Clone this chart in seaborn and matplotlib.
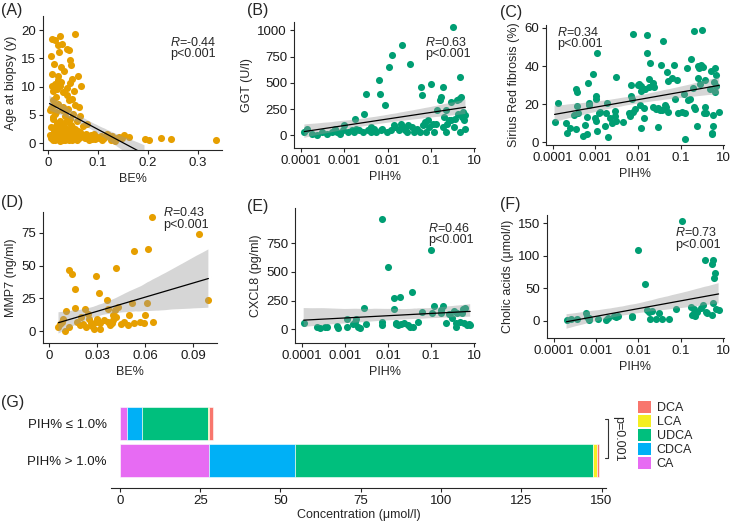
import numpy as np
import pandas as pd
import matplotlib
matplotlib.use("Agg")
import matplotlib.pyplot as plt
from matplotlib.patches import Patch
import seaborn as sns

ORANGE = "#E69F00"
GREEN = "#009E73"

# (A) BE% vs age at biopsy
be_a = [0.005, 0.008, 0.013, 0.020, 0.024, 0.027, 0.022, 0.037, 0.041, 0.054,
        0.011, 0.025, 0.044, 0.046, 0.047, 0.059, 0.066, 0.007, 0.014, 0.020,
        0.024, 0.010, 0.017, 0.030, 0.037, 0.044, 0.051, 0.041, 0.010, 0.020,
        0.030, 0.054, 0.061, 0.064, 0.057, 0.078, 0.003, 0.010, 0.014, 0.024,
        0.033, 0.044, 0.005, 0.017, 0.024, 0.037, 0.047, 0.010, 0.020, 0.030,
        0.044, 0.057, 0.071, 0.081, 0.098, 0.111, 0.120, 0.133, 0.142, 0.152,
        0.162, 0.193, 0.201, 0.225, 0.245, 0.335, 0.006, 0.012, 0.016, 0.018,
        0.028, 0.035, 0.040, 0.050, 0.013, 0.022, 0.034, 0.042, 0.062, 0.070,
        0.027, 0.015, 0.008, 0.031, 0.038, 0.048, 0.026, 0.019, 0.009, 0.045,
        0.088, 0.105, 0.125, 0.148, 0.006, 0.009, 0.012, 0.015, 0.018, 0.021,
        0.025, 0.029, 0.032, 0.036, 0.039, 0.043, 0.048, 0.052, 0.055, 0.060,
        0.066, 0.074, 0.085, 0.094, 0.102, 0.115, 0.138, 0.016, 0.023, 0.031,
        0.046, 0.053, 0.004, 0.007, 0.011, 0.014, 0.019, 0.023, 0.026, 0.030,
        0.033, 0.038, 0.041, 0.049, 0.058, 0.064, 0.076, 0.082, 0.092, 0.108,
        0.118, 0.128]
age_a = [15.4, 18.5, 18.2, 17.3, 19.0, 17.6, 16.2, 16.7, 16.4, 19.4,
         14.0, 13.5, 14.7, 13.8, 11.4, 11.8, 10.1, 10.2, 10.5, 11.1,
         10.2, 9.3, 9.6, 9.1, 8.5, 10.7, 9.3, 7.6, 7.6, 7.0,
         6.4, 6.7, 6.4, 4.9, 4.0, 3.4, 5.8, 4.6, 5.2, 4.0,
         4.9, 4.3, 2.8, 2.2, 2.8, 2.5, 2.8, 1.7, 1.4, 1.7,
         1.7, 1.4, 1.1, 1.2, 1.1, 0.9, 1.4, 0.4, 1.1, 1.4,
         1.1, 0.8, 0.5, 0.9, 0.8, 0.5, 6.2, 6.8, 5.5, 3.5,
         3.2, 3.8, 6.0, 5.2, 1.0, 0.8, 1.0, 0.6, 0.9, 3.0,
         5.8, 8.2, 12.3, 12.8, 9.8, 7.8, 10.8, 11.8, 4.2, 2.2,
         0.7, 1.3, 0.6, 0.9, 1.0, 0.6, 2.0, 1.2, 0.7, 2.3,
         1.1, 0.6, 2.1, 1.3, 0.8, 1.1, 0.5, 1.8, 0.9, 2.2,
         1.5, 0.9, 1.5, 0.8, 1.0, 1.2, 1.0, 3.0, 3.6, 2.8,
         3.3, 2.5, 1.5, 0.9, 2.6, 0.5, 1.9, 0.4, 2.9, 1.2,
         0.5, 2.0, 1.5, 1.0, 0.6, 1.9, 1.7, 0.5, 1.6, 0.6,
         1.7, 1.2]

# (B) PIH% vs GGT
pih_b = [1.2e-4, 1.4e-4, 1.8e-4, 2.4e-4, 3.1e-4, 4.0e-4, 5.2e-4, 6.2e-4, 8.0e-4, 9.5e-4,
         1.0e-3, 1.2e-3, 1.5e-3, 1.8e-3, 1.9e-3, 2.7e-3, 2.9e-3, 3.1e-3, 3.5e-3, 4.2e-3,
         5.5e-3, 6.3e-3, 6.6e-3, 6.9e-3, 8.9e-3, 9.8e-3, 0.011, 0.013, 0.015, 0.018,
         0.022, 0.023, 0.028, 0.033, 0.036, 0.043, 0.055, 0.059, 0.063, 0.072,
         0.078, 0.093, 0.10, 0.11, 0.12, 0.14, 0.16, 0.17, 0.19, 0.195,
         0.22, 0.24, 0.26, 0.29, 0.32, 0.34, 0.41, 0.45, 0.47, 0.50,
         0.53, 0.57, 0.63, 7.5e-3, 0.012, 0.014, 0.020, 0.025, 0.030, 0.040,
         0.048, 0.065, 0.085, 0.13, 0.20, 0.23, 0.30, 0.37, 0.43, 0.48,
         0.55, 0.60, 6.8e-4, 1.7e-3, 2.2e-3, 4.2e-3, 5.0e-3]
ggt_b = [32, 63, 16, 0, 32, 16, 32, 63, 16, 48,
         95, 32, 48, 159, 63, 32, 206, 397, 48, 79,
         32, 524, 397, 48, 286, 32, 651, 762, 79, 48,
         857, 79, 32, 683, 79, 48, 32, 460, 381, 127,
         32, 79, 492, 111, 32, 238, 333, 365, 460, 79,
         32, 111, 143, 317, 1032, 79, 333, 349, 556, 365,
         175, 143, 63, 63, 48, 95, 111, 54, 95, 32,
         63, 95, 143, 105, 175, 238, 143, 159, 206, 32,
         222, 190, 32, 32, 48, 32, 63]

# (C) PIH% vs Sirius Red fibrosis
pih_c = [1.1e-4, 1.3e-4, 2.0e-4, 2.2e-4, 2.5e-4, 3.1e-4, 3.5e-4, 3.5e-4, 3.6e-4, 3.7e-4,
         3.8e-4, 5.0e-4, 5.8e-4, 6.2e-4, 6.4e-4, 6.7e-4, 6.9e-4, 7.2e-4, 8.8e-4, 1.0e-3,
         1.04e-3, 1.04e-3, 1.06e-3, 1.1e-3, 1.1e-3, 1.2e-3, 1.3e-3, 1.7e-3, 1.8e-3, 1.9e-3,
         1.95e-3, 2.2e-3, 2.5e-3, 2.9e-3, 2.9e-3, 3.0e-3, 3.1e-3, 4.4e-3, 6.0e-3, 6.6e-3,
         6.9e-3, 6.9e-3, 7.2e-3, 7.5e-3, 7.5e-3, 8.7e-3, 0.010, 0.0104, 0.011, 0.012,
         0.012, 0.012, 0.0135, 0.014, 0.015, 0.016, 0.016, 0.018, 0.0185, 0.019,
         0.022, 0.023, 0.024, 0.027, 0.029, 0.030, 0.033, 0.035, 0.036, 0.039,
         0.042, 0.045, 0.048, 0.050, 0.052, 0.063, 0.069, 0.075, 0.082, 0.087,
         0.11, 0.12, 0.13, 0.13, 0.145, 0.15, 0.17, 0.18, 0.20, 0.21,
         0.22, 0.21, 0.24, 0.25, 0.26, 0.27, 0.29, 0.30, 0.32, 0.33,
         0.35, 0.37, 0.38, 0.39, 0.50, 0.53, 0.54, 0.56, 0.57, 0.59,
         0.61, 0.65, 0.65, 0.68, 0.68, 0.81]
srf_c = [10.6, 20.6, 10.1, 5.1, 7.6, 14.4, 6.8, 27.9, 26.5, 18.9,
         15.2, 3.4, 9.3, 4.6, 13.5, 31.0, 20.6, 19.8, 35.6, 12.7,
         24.5, 22.8, 11.0, 5.9, 47.0, 15.2, 16.0, 8.4, 15.2, 20.6,
         2.9, 12.7, 10.1, 14.0, 16.6, 34.3, 11.3, 10.6, 15.2, 13.9,
         24.2, 29.9, 22.8, 56.6, 16.0, 17.7, 29.9, 30.4, 19.4, 29.6,
         27.0, 7.6, 18.0, 12.7, 28.2, 56.3, 46.6, 29.2, 33.3, 41.4,
         18.6, 31.0, 29.2, 17.7, 18.1, 7.9, 17.2, 40.5, 16.9, 52.9,
         19.4, 18.6, 36.8, 32.1, 16.0, 33.8, 40.5, 22.8, 32.9, 15.2,
         15.7, 25.3, 1.7, 15.2, 38.8, 22.0, 22.8, 43.9, 28.7, 18.6,
         17.7, 58.3, 8.4, 33.8, 40.0, 39.0, 30.4, 40.5, 59.1, 39.7,
         15.2, 32.9, 18.6, 15.2, 27.9, 37.2, 5.1, 4.2, 8.4, 14.4,
         31.6, 38.9, 26.2, 35.5, 29.6, 16.0]

# (D) BE% vs MMP7
be_d = [0.0057, 0.0068, 0.0078, 0.0084, 0.0099, 0.0105, 0.012, 0.0125, 0.014, 0.016,
        0.016, 0.017, 0.019, 0.020, 0.021, 0.022, 0.023, 0.024, 0.025, 0.026,
        0.027, 0.028, 0.029, 0.029, 0.030, 0.031, 0.032, 0.032, 0.034, 0.036,
        0.037, 0.037, 0.038, 0.039, 0.040, 0.040, 0.041, 0.042, 0.042, 0.043,
        0.045, 0.047, 0.049, 0.050, 0.052, 0.053, 0.053, 0.057, 0.059, 0.060,
        0.061, 0.062, 0.064, 0.065, 0.094, 0.0996]
mmp7_d = [3.3, 5.3, 7.1, 9.7, 0.0, 15.5, 3.3, 47.0, 44.0, 31.9,
          18.0, 7.0, 4.6, 10.5, 5.4, 16.6, 3.3, 13.5, 9.7, 5.9,
          3.8, 2.0, 42.0, 7.1, 9.7, 29.3, 5.9, 2.0, 8.4, 24.2,
          7.1, 17.3, 4.6, 5.9, 8.4, 12.2, 16.0, 48.5, 11.0, 18.6,
          5.4, 7.1, 4.6, 12.2, 21.2, 61.0, 5.9, 7.1, 5.9, 12.2,
          21.7, 63.0, 87.5, 7.1, 74.0, 24.0]

# (E) PIH% vs CXCL8
pih_e = [1.1e-4, 2.2e-4, 2.6e-4, 3.5e-4, 3.9e-4, 6.6e-4, 6.9e-4, 1.1e-3, 1.1e-3, 1.5e-3,
         1.7e-3, 1.8e-3, 2.0e-3, 2.2e-3, 2.8e-3, 3.1e-3, 7.1e-3, 7.1e-3, 7.1e-3, 0.010,
         0.0135, 0.0135, 0.015, 0.0155, 0.017, 0.0186, 0.020, 0.024, 0.029, 0.032,
         0.037, 0.039, 0.049, 0.063, 0.10, 0.107, 0.117, 0.166, 0.17, 0.19,
         0.22, 0.26, 0.31, 0.34, 0.37, 0.38, 0.40, 0.48, 0.52, 0.54,
         0.57, 0.62, 0.68, 0.74, 0.81]
cxcl8_e = [52, 23, 9, 23, 17, 29, 9, 23, 87, 47,
           67, 87, 23, 9, 183, 47, 959, 38, 64, 541,
           276, 174, 47, 58, 38, 279, 47, 52, 38, 23,
           328, 17, 61, 154, 692, 140, 203, 140, 169, 203,
           58, 131, 96, 163, 52, 17, 140, 67, 140, 174,
           52, 183, 38, 47, 38]

# (F) PIH% vs cholic acids
pih_f = [2.0e-4, 2.6e-4, 3.5e-4, 5.8e-4, 6.0e-4, 6.7e-4, 6.9e-4, 1.1e-3, 1.7e-3, 1.9e-3,
         2.7e-3, 3.0e-3, 3.2e-3, 6.9e-3, 7.2e-3, 0.010, 0.0144, 0.016, 0.018, 0.0185,
         0.021, 0.026, 0.030, 0.035, 0.052, 0.075, 0.107, 0.17, 0.18, 0.20,
         0.21, 0.22, 0.24, 0.30, 0.33, 0.37, 0.39, 0.41, 0.54, 0.56,
         0.57, 0.59, 0.62, 0.65, 0.68, 0.78]
ca_f = [1.0, 2.0, 2.0, 12.3, 6.2, 1.0, 3.6, 2.0, 1.0, 3.6,
        7.2, 6.2, 7.2, 6.2, 7.7, 109.0, 56.5, 16.4, 13.9, 2.0,
        14.0, 2.0, 11.3, 2.0, 2.0, 17.5, 154.0, 21.6, 8.7, 17.5,
        11.3, 7.7, 13.9, 20.0, 24.0, 93.0, 13.9, 12.3, 8.7, 87.0,
        93.0, 27.7, 65.0, 74.0, 17.5, 16.4]

# (G) bile acid composition
groups = ["PIH% \u2264 1.0%", "PIH% > 1.0%"]
acid_names = ["CA", "CDCA", "UDCA", "LCA", "DCA"]
acid_colors = ["#E76BF3", "#00B0F6", "#00BF7D", "#F5EE22", "#F8766D"]
conc_ca = [2.1, 27.8]
conc_cdca = [4.8, 26.6]
conc_udca = [20.4, 93.0]
conc_lca = [0.5, 1.1]
conc_dca = [1.3, 0.8]

LOG_TICKS = [-4, -3, -2, -1, 0]
LOG_LABELS = ["0.0001", "0.001", "0.01", "0.1", "10"]

W, H = 733, 524
TICK_FS = 9.5
LABEL_FS = 9

sns.set_style("ticks")
plt.rcParams["font.family"] = ["Liberation Sans", "DejaVu Sans"]
plt.rcParams["mathtext.fontset"] = "custom"
plt.rcParams["mathtext.rm"] = "Liberation Sans"
plt.rcParams["mathtext.it"] = "Liberation Sans:italic"
plt.rcParams["axes.linewidth"] = 0.8


def add_ax(fig, l, t, r, b):
    return fig.add_axes([l / W, 1 - b / H, (r - l) / W, (b - t) / H])


def fig_text(fig, x, y, s, **kw):
    fig.text(x / W, 1 - y / H, s, **kw)


def style_ax(ax):
    sns.despine(ax=ax)
    ax.tick_params(direction="out", length=3, width=0.8, labelsize=TICK_FS,
                   pad=2, labelcolor="#1a1a1a")


def reg_panel(ax, x, y, color, xlabel, ylabel, log=False, fit_max=None):
    xv = np.log10(x) if log else np.asarray(x)
    df = pd.DataFrame({"x": xv, "y": y})
    sns.scatterplot(data=df, x="x", y="y", color=color, s=26, linewidth=0,
                    alpha=1, ax=ax)
    fit = df if fit_max is None else df[df["x"] <= fit_max]
    sns.regplot(data=fit, x="x", y="y", scatter=False, ax=ax, seed=3,
                line_kws={"color": "black", "linewidth": 0.9})
    # grey confidence band drawn over the points, like geom_smooth
    for coll in ax.collections[1:]:
        coll.set_facecolor("#999999")
        coll.set_edgecolor("none")
        coll.set_alpha(0.4)
    ax.set_xlabel(xlabel, fontsize=LABEL_FS, labelpad=3)
    ax.set_ylabel(ylabel, fontsize=LABEL_FS, labelpad=3)
    if log:
        ax.set_xticks(LOG_TICKS)
        ax.set_xticklabels(LOG_LABELS)
        ax.set_xlim(-4.16, 0.02)
    style_ax(ax)


def stat_text(fig, x, y, r):
    fig_text(fig, x, y, r"$R$=" + r, fontsize=9, va="center", ha="left")
    fig_text(fig, x, y + 12, "p<0.001", fontsize=9, va="center", ha="left")


fig = plt.figure(figsize=(W / 100, H / 100), dpi=100)

# (A)
ax = add_ax(fig, 43, 16, 222, 150)
reg_panel(ax, be_a, age_a, ORANGE, "BE%", "Age at biopsy (y)", fit_max=0.2)
ax.set_xlim(-0.01, 0.348)
ax.set_ylim(-1.2, 22.5)
ax.set_xticks([0, 0.1, 0.2, 0.3])
ax.set_xticklabels(["0", "0.1", "0.2", "0.3"])
ax.set_yticks([0, 5, 10, 15, 20])
stat_text(fig, 170, 42, "-0.44")

# (B)
ax = add_ax(fig, 294, 22, 475, 148)
reg_panel(ax, pih_b, ggt_b, GREEN, "PIH%", "GGT (U/l)", log=True)
ax.set_ylim(-120, 1080)
ax.set_yticks([0, 250, 500, 750, 1000])
stat_text(fig, 425, 42, "0.63")

# (C)
ax = add_ax(fig, 546, 25, 724, 145)
reg_panel(ax, pih_c, srf_c, GREEN, "PIH%", "Sirius Red fibrosis (%)", log=True)
ax.set_ylim(-1.4, 61.5)
ax.set_yticks([0, 20, 40, 60])
stat_text(fig, 557, 32, "0.34")

# (D)
ax = add_ax(fig, 43, 212, 217, 343)
reg_panel(ax, be_d, mmp7_d, ORANGE, "BE%", "MMP7 (ng/ml)")
ax.set_xlim(-0.004, 0.105)
ax.set_ylim(-9, 91)
ax.set_xticks([0, 0.03, 0.06, 0.09])
ax.set_xticklabels(["0", "0.03", "0.06", "0.09"])
ax.set_yticks([0, 25, 50, 75])
stat_text(fig, 163, 213, "0.43")

# (E)
ax = add_ax(fig, 295, 208, 475, 343)
reg_panel(ax, pih_e, cxcl8_e, GREEN, "PIH%", "CXCL8 (pg/ml)", log=True)
ax.set_ylim(-120, 1057)
ax.set_yticks([0, 250, 500, 750])
stat_text(fig, 428, 228, "0.46")

# (F)
ax = add_ax(fig, 547, 215, 724, 338)
reg_panel(ax, pih_f, ca_f, GREEN, "PIH%", "Cholic acids (\u03bcmol/l)", log=True)
ax.set_ylim(-27, 163)
ax.set_yticks([0, 50, 100, 150])
stat_text(fig, 675, 233, "0.73")

# (G) stacked horizontal bars
ax = add_ax(fig, 111, 396, 606, 488)
comp = pd.DataFrame({"CA": conc_ca, "CDCA": conc_cdca, "UDCA": conc_udca,
                     "LCA": conc_lca, "DCA": conc_dca}, index=groups)
left = np.zeros(len(groups))
ypos = np.arange(len(groups))
for name, col in zip(acid_names, acid_colors):
    ax.barh(ypos, comp[name].values, left=left, height=0.9, color=col,
            edgecolor="white", linewidth=0.4)
    left = left + comp[name].values
ax.set_yticks(ypos)
ax.set_yticklabels(groups)
ax.set_ylim(1.75, -0.75)
ax.set_xlim(-2.8, 151.4)
ax.set_xticks([0, 25, 50, 75, 100, 125, 150])
ax.set_xlabel("Concentration (\u03bcmol/l)", fontsize=LABEL_FS, labelpad=1.5)
sns.despine(ax=ax, left=True)
ax.tick_params(axis="x", direction="out", length=3, width=0.8, labelsize=TICK_FS,
               pad=2, labelcolor="#1a1a1a")
ax.tick_params(axis="y", length=0, labelsize=TICK_FS, pad=3, labelcolor="#1a1a1a")

# significance bracket
ax.plot([151.1, 152.1, 152.1, 151.1], [-0.12, -0.12, 0.945, 0.945],
        color="#333333", lw=0.8, clip_on=False)
ax.text(155.2, 0.41, "p=0.001", rotation=-90, fontsize=9, va="center",
        ha="center", clip_on=False)

handles = [Patch(facecolor=c, edgecolor="none", label=n)
           for n, c in zip(acid_names[::-1], acid_colors[::-1])]
fig.legend(handles=handles, loc="upper left",
           bbox_to_anchor=(638 / W, 1 - 401 / H), frameon=False, fontsize=9,
           handlelength=1.05, handleheight=1.05, labelspacing=0.08,
           handletextpad=0.45, borderaxespad=0, borderpad=0)

# panel letters
for lab, x, y in [("(A)", 1, 11), ("(B)", 247, 11), ("(C)", 500, 12),
                  ("(D)", 1, 203), ("(E)", 247, 206), ("(F)", 500, 205),
                  ("(G)", 1, 402)]:
    fig_text(fig, x, y, lab, fontsize=11.5, va="center", ha="left")

fig.savefig("out.png", dpi=100)
